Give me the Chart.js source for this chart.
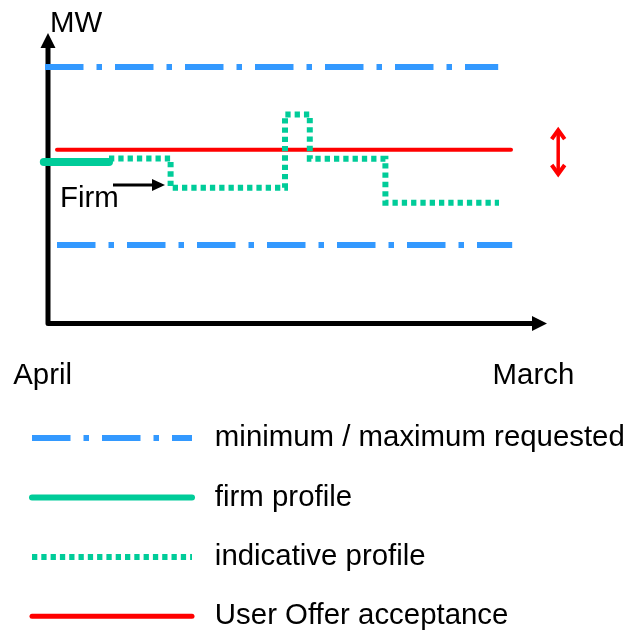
<!DOCTYPE html>
<html>
<head>
<meta charset="utf-8">
<script src="https://cdn.jsdelivr.net/npm/chart.js@4"></script>
<style>
  html, body { margin: 0; padding: 0; background: #fff; }
  #wrap { width: 625px; height: 637px; }
</style>
</head>
<body>
<div id="wrap"><canvas id="chart"></canvas></div>
<script>
// x = months from April, y = MW (schematic values)
const maxX = [-0.05, 11.28];
const maxMW = [88.3, 88.3];
const minX = [0.25, 11.63];
const minMW = [26.9, 26.9];
const offerX = [0.25, 11.6];
const offerMW = [59.7, 59.7];
const firmX = [-0.08, 1.55];
const firmMW = [55.5, 55.5];
const indicativeX = [1.55, 3.09, 5.95, 6.57, 8.46, 11.3];
const indicativeMW = [56.7, 46.6, 71.9, 56.6, 41.5, 41.5];
const monthLabels = ['April', 'March'];
const monthX = [-0.11, 12.16];
const legendLabels = ['minimum / maximum requested', 'firm profile', 'indicative profile', 'User Offer acceptance'];

const BLUE = '#3399ff';
const GREEN = '#00cc99';
const RED = '#ff0000';
const FONT_FAMILY = '"Liberation Sans", Arial, sans-serif';
const FONT_SIZE = 29.4;
const FONT = FONT_SIZE + 'px ' + FONT_FAMILY;
const DASH_DOT = [38.5, 13, 5.5, 13];
const DOTS = [5.3, 4];

const pts = (xs, ys) => xs.map((v, i) => ({x: v, y: ys[i]}));

// axes with arrows, axis labels, the Firm note and the red double arrow
const schematic = {
    id: 'schematic',
    beforeDatasetsDraw(chart) {
        const {ctx, scales: {x, y}} = chart;
        const x0 = x.getPixelForValue(0) + 1;
        const y0 = y.getPixelForValue(0) + 0.5;
        const xEnd = x.getPixelForValue(12.5);
        const yEnd = y.getPixelForValue(100);
        ctx.save();
        ctx.strokeStyle = '#000';
        ctx.fillStyle = '#000';
        ctx.lineWidth = 5;
        ctx.lineJoin = 'round';
        ctx.beginPath();
        ctx.moveTo(x0, yEnd + 12);
        ctx.lineTo(x0, y0);
        ctx.lineTo(xEnd - 12, y0);
        ctx.stroke();
        ctx.beginPath();
        ctx.moveTo(x0, yEnd);
        ctx.lineTo(x0 - 7.5, yEnd + 15);
        ctx.lineTo(x0 + 7.5, yEnd + 15);
        ctx.closePath();
        ctx.moveTo(xEnd, y0);
        ctx.lineTo(xEnd - 15, y0 - 7.5);
        ctx.lineTo(xEnd - 15, y0 + 7.5);
        ctx.closePath();
        ctx.fill();

        ctx.font = FONT;
        ctx.textBaseline = 'alphabetic';
        ctx.textAlign = 'center';
        monthLabels.forEach((t, i) => {
            ctx.fillText(t, x.getPixelForValue(monthX[i]), y.getPixelForValue(-21));
        });
        ctx.textAlign = 'left';
        ctx.fillText('MW', x.getPixelForValue(0.075), y.getPixelForValue(100.3));
        ctx.restore();
    },
    afterDatasetsDraw(chart) {
        const {ctx, scales: {x, y}} = chart;
        ctx.save();
        // Firm note
        ctx.font = FONT;
        ctx.fillStyle = '#000';
        ctx.textAlign = 'left';
        ctx.textBaseline = 'alphabetic';
        ctx.fillText('Firm', x.getPixelForValue(0.325), y.getPixelForValue(40));
        const ay = y.getPixelForValue(47.6);
        const ax1 = x.getPixelForValue(1.65);
        const ax2 = x.getPixelForValue(2.95);
        ctx.strokeStyle = '#000';
        ctx.lineWidth = 3;
        ctx.beginPath();
        ctx.moveTo(ax1, ay);
        ctx.lineTo(ax2 - 8, ay);
        ctx.stroke();
        ctx.beginPath();
        ctx.moveTo(ax2, ay);
        ctx.lineTo(ax2 - 13, ay - 6);
        ctx.lineTo(ax2 - 13, ay + 6);
        ctx.closePath();
        ctx.fill();

        // red double arrow
        const rx = x.getPixelForValue(12.78);
        const rt = y.getPixelForValue(67.2);
        const rb = y.getPixelForValue(50.7);
        ctx.strokeStyle = RED;
        ctx.lineWidth = 3.5;
        ctx.beginPath();
        ctx.moveTo(rx, rt + 2);
        ctx.lineTo(rx, rb - 2);
        ctx.stroke();
        ctx.lineWidth = 4;
        ctx.lineJoin = 'miter';
        ctx.beginPath();
        ctx.moveTo(rx - 6.5, rt + 11);
        ctx.lineTo(rx, rt + 2);
        ctx.lineTo(rx + 6.5, rt + 11);
        ctx.moveTo(rx - 6.5, rb - 11);
        ctx.lineTo(rx, rb - 2);
        ctx.lineTo(rx + 6.5, rb - 11);
        ctx.stroke();
        ctx.restore();
    }
};

new Chart(document.getElementById('chart'), {
    type: 'line',
    data: {
        datasets: [{
            label: 'firm profile',
            data: pts(firmX, firmMW),
            borderColor: GREEN,
            borderWidth: 8,
            borderCapStyle: 'round'
        }, {
            label: 'indicative profile',
            data: pts(indicativeX, indicativeMW),
            borderColor: GREEN,
            borderWidth: 6,
            borderDash: DOTS,
            borderJoinStyle: 'miter',
            stepped: true
        }, {
            label: 'User Offer acceptance',
            data: pts(offerX, offerMW),
            borderColor: RED,
            borderWidth: 4,
            borderCapStyle: 'round'
        }, {
            label: 'maximum requested',
            data: pts(maxX, maxMW),
            borderColor: BLUE,
            borderWidth: 6,
            borderDash: DASH_DOT
        }, {
            label: 'minimum requested',
            data: pts(minX, minMW),
            borderColor: BLUE,
            borderWidth: 6,
            borderDash: DASH_DOT
        }]
    },
    options: {
        responsive: true,
        maintainAspectRatio: false,
        animation: false,
        elements: {
            point: { radius: 0, hoverRadius: 0 },
            line: { tension: 0, fill: false }
        },
        layout: { padding: { left: 2, bottom: -4 } },
        scales: {
            x: { type: 'linear', display: false, min: -1.125, max: 14.45 },
            y: { type: 'linear', display: false, min: -24.28, max: 111.38 }
        },
        plugins: {
            tooltip: { enabled: false },
            legend: {
                position: 'bottom',
                align: 'start',
                onClick: null,
                labels: {
                    font: { family: FONT_FAMILY, size: FONT_SIZE },
                    color: '#000',
                    usePointStyle: true,
                    pointStyleWidth: 160,
                    padding: 30,
                    generateLabels: () => [
                        { text: ' ' + legendLabels[0], pointStyle: 'line', strokeStyle: BLUE, fillStyle: BLUE, lineWidth: 6, lineDash: DASH_DOT, lineCap: 'butt', fontColor: '#000', hidden: false, datasetIndex: 3 },
                        { text: ' ' + legendLabels[1], pointStyle: 'line', strokeStyle: GREEN, fillStyle: GREEN, lineWidth: 6, lineDash: [], lineCap: 'round', fontColor: '#000', hidden: false, datasetIndex: 0 },
                        { text: ' ' + legendLabels[2], pointStyle: 'line', strokeStyle: GREEN, fillStyle: GREEN, lineWidth: 6, lineDash: DOTS, lineCap: 'butt', fontColor: '#000', hidden: false, datasetIndex: 1 },
                        { text: ' ' + legendLabels[3], pointStyle: 'line', strokeStyle: RED, fillStyle: RED, lineWidth: 5, lineDash: [], lineCap: 'round', fontColor: '#000', hidden: false, datasetIndex: 2 }
                    ]
                }
            }
        }
    },
    plugins: [schematic]
});
</script>
</body>
</html>
